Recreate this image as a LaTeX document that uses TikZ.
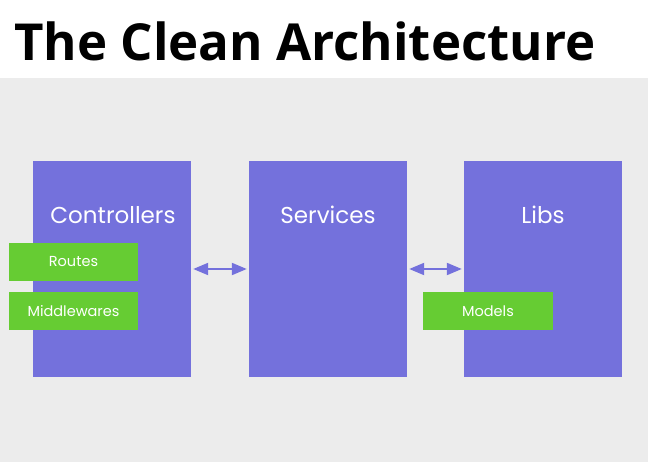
\documentclass[tikz,border=0pt]{standalone}
\usepackage{fontspec}
\setmainfont{Open Sans}
\newfontfamily\boxfont{Poppins}
\usetikzlibrary{arrows.meta}
\definecolor{layer}{HTML}{7471DC}
\definecolor{part}{HTML}{66CC33}
\definecolor{slide}{HTML}{ECECEC}

\begin{document}
\begin{tikzpicture}[x=1pt,y=-1pt, >={Triangle[length=15pt,width=12pt]},
    layerbox/.style={fill=layer, minimum width=158pt, minimum height=216pt, inner sep=0pt},
    partbox/.style={fill=part, minimum height=38pt, inner sep=0pt, text=white,
        font=\boxfont\fontsize{14.5}{16}\selectfont},
    layername/.style={text=white, font=\boxfont\fontsize{23}{26}\selectfont}]
    \useasboundingbox (0,0) rectangle (648,462);
    \fill[white] (0,0) rectangle (648,78);
    \fill[slide] (0,78) rectangle (648,462);
    \node[anchor=west, font=\bfseries\fontsize{51}{56}\selectfont, inner sep=0pt] (title) at (14,41) {The Clean Architecture};

    \node[layerbox] (ctrl) at (112,269) {};
    \node[layerbox] (svc) at (328,269) {};
    \node[layerbox] (libs) at (543,269) {};

    \node[layername] (ctrltxt) at (113,215) {Controllers};
    \node[layername] (svctxt) at (328,215) {Services};
    \node[layername] (libstxt) at (543,215) {Libs};

    \node[partbox, minimum width=129pt] (routes) at (73.5,262) {Routes};
    \node[partbox, minimum width=129pt] (mid) at (73.5,311) {Middlewares};
    \node[partbox, minimum width=130pt] (models) at (488,311) {Models};

    \foreach \k/\l in {ctrl/svc, svc/libs}{\draw[<->, layer, line width=2pt, shorten <=2pt, shorten >=2pt](\k)--(\l);}
\end{tikzpicture}
\end{document}
